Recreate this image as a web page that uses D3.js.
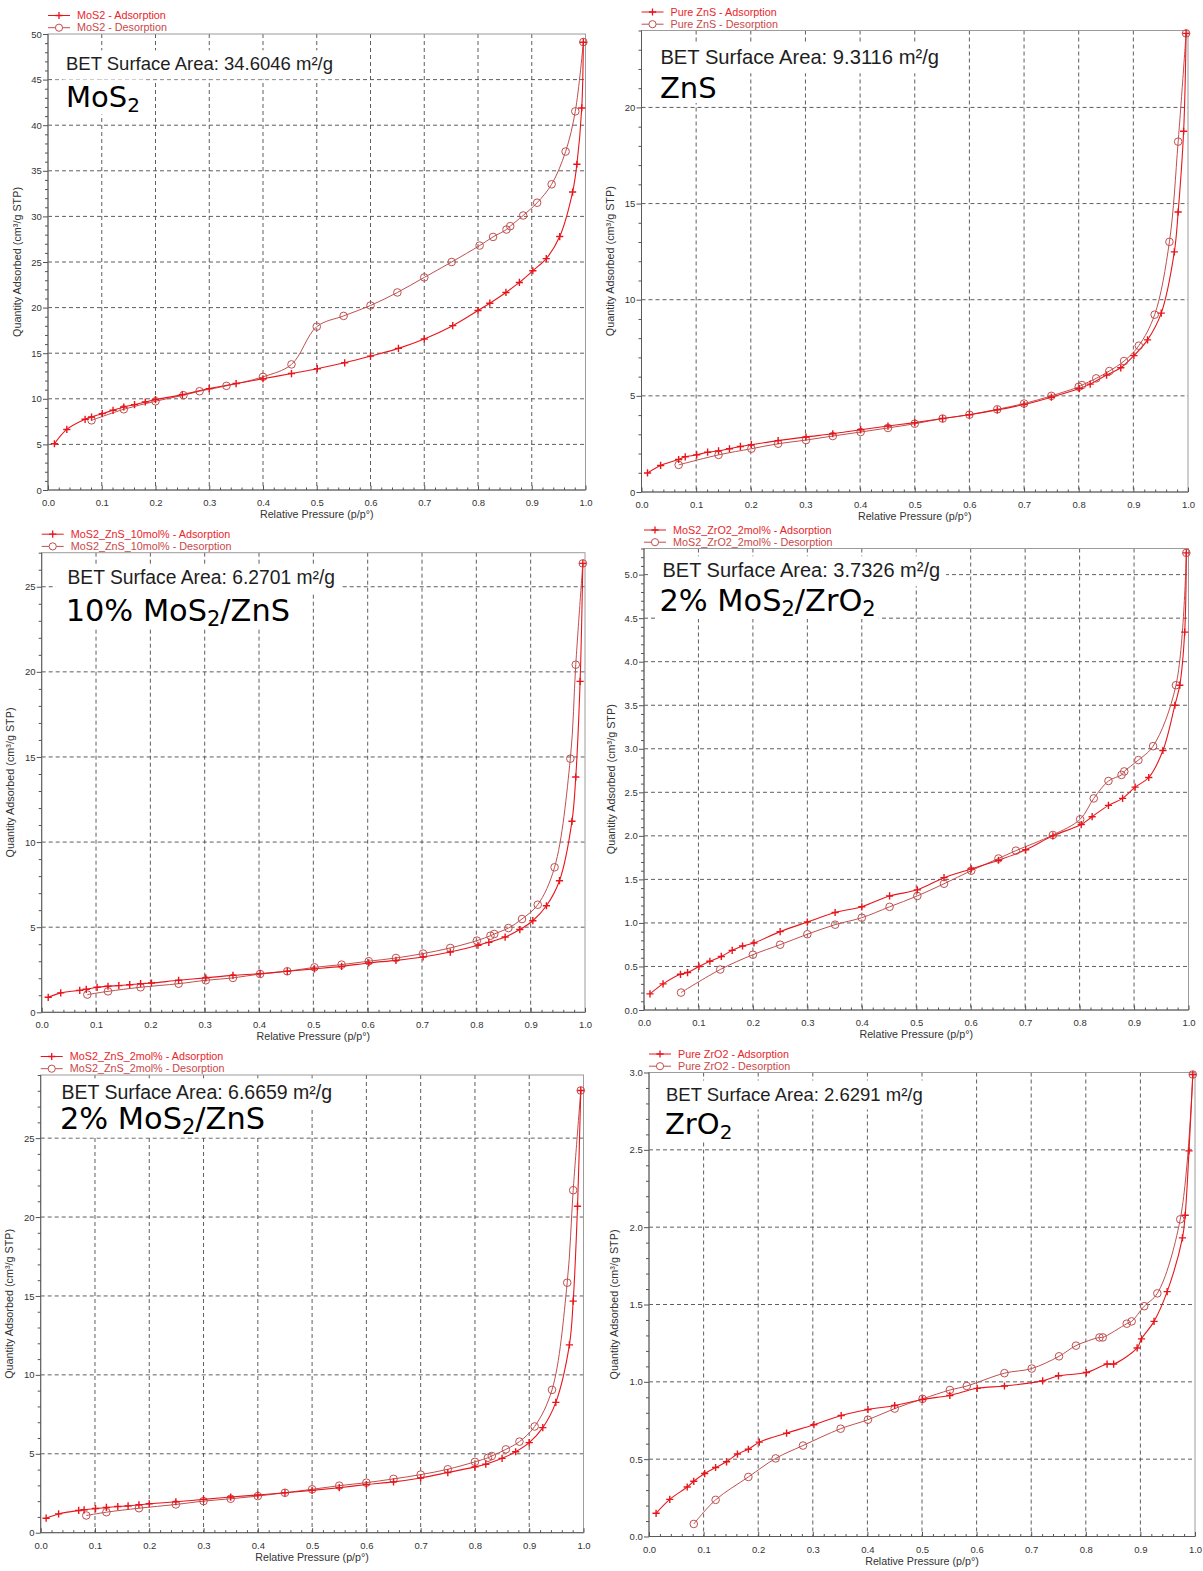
<!DOCTYPE html>
<html>
<head>
<meta charset="utf-8">
<script src="https://cdn.jsdelivr.net/npm/d3@7"></script>
<style>
  html, body { margin: 0; padding: 0; background: #fff; }
  svg { display: block; }
</style>
</head>
<body>
<svg id="fig" width="1203" height="1571"></svg>
<script>
// ---------- isotherm data: [relative pressure p/p°, quantity adsorbed cm³/g STP] ----------
const mos2Ads = [[0.012,5.07],[0.035,6.64],[0.069,7.75],[0.081,8.0],[0.101,8.37],[0.121,8.74],[0.141,9.1],[0.161,9.36],[0.181,9.65],[0.2,9.91],[0.25,10.46],[0.3,11.12],[0.35,11.67],[0.4,12.2],[0.453,12.77],[0.501,13.3],[0.552,13.95],[0.6,14.68],[0.652,15.53],[0.7,16.56],[0.753,18.02],[0.8,19.68],[0.822,20.48],[0.852,21.66],[0.877,22.76],[0.902,24.04],[0.927,25.37],[0.952,27.79],[0.976,32.67],[0.984,35.72],[0.993,41.89],[0.996,49.1]];
const mos2Des = [[0.996,49.12],[0.981,41.52],[0.963,37.11],[0.937,33.52],[0.91,31.5],[0.884,30.1],[0.86,28.93],[0.853,28.56],[0.828,27.75],[0.803,26.8],[0.751,25.0],[0.7,23.31],[0.65,21.66],[0.6,20.23],[0.55,19.09],[0.5,17.91],[0.453,13.77],[0.4,12.41],[0.332,11.42],[0.282,10.83],[0.252,10.39],[0.2,9.73],[0.141,8.85],[0.081,7.64]];

const znsAds = [[0.011,0.99],[0.035,1.38],[0.068,1.69],[0.08,1.83],[0.101,1.93],[0.121,2.07],[0.141,2.14],[0.161,2.25],[0.181,2.37],[0.201,2.46],[0.25,2.67],[0.301,2.86],[0.35,3.03],[0.401,3.24],[0.451,3.43],[0.5,3.61],[0.551,3.82],[0.6,4.02],[0.651,4.27],[0.7,4.55],[0.75,4.93],[0.801,5.38],[0.821,5.61],[0.851,6.08],[0.877,6.46],[0.901,7.09],[0.926,7.91],[0.951,9.3],[0.975,12.49],[0.982,14.56],[0.992,18.76],[0.9965,23.85]];
const znsDes = [[0.9965,23.85],[0.982,18.22],[0.966,13.01],[0.939,9.22],[0.91,7.61],[0.883,6.81],[0.856,6.29],[0.832,5.91],[0.806,5.56],[0.8,5.47],[0.75,5.0],[0.7,4.6],[0.651,4.3],[0.6,4.02],[0.551,3.82],[0.5,3.55],[0.451,3.33],[0.401,3.12],[0.35,2.91],[0.301,2.7],[0.25,2.51],[0.201,2.25],[0.141,1.93],[0.068,1.41]];

const mz10Ads = [[0.012,0.88],[0.035,1.14],[0.07,1.29],[0.082,1.35],[0.102,1.47],[0.122,1.53],[0.142,1.57],[0.162,1.62],[0.182,1.68],[0.202,1.72],[0.252,1.88],[0.302,2.02],[0.352,2.17],[0.402,2.27],[0.452,2.41],[0.502,2.55],[0.552,2.7],[0.602,2.9],[0.652,3.05],[0.702,3.25],[0.752,3.54],[0.803,3.94],[0.823,4.11],[0.853,4.42],[0.88,4.86],[0.904,5.38],[0.929,6.26],[0.953,7.73],[0.976,11.22],[0.983,13.82],[0.991,19.44],[0.996,26.37]];
const mz10Des = [[0.996,26.37],[0.983,20.42],[0.973,14.9],[0.944,8.52],[0.913,6.32],[0.884,5.48],[0.859,4.95],[0.833,4.6],[0.826,4.5],[0.801,4.21],[0.752,3.78],[0.702,3.45],[0.652,3.19],[0.602,3.0],[0.552,2.8],[0.502,2.64],[0.452,2.41],[0.402,2.25],[0.352,2.02],[0.302,1.88],[0.252,1.68],[0.182,1.47],[0.122,1.23],[0.084,1.04]];

const mzr2Ads = [[0.011,0.185],[0.035,0.3],[0.067,0.41],[0.08,0.43],[0.101,0.5],[0.121,0.56],[0.142,0.615],[0.162,0.685],[0.181,0.735],[0.202,0.77],[0.25,0.9],[0.3,1.01],[0.351,1.12],[0.4,1.185],[0.451,1.31],[0.502,1.38],[0.551,1.52],[0.601,1.62],[0.651,1.72],[0.701,1.84],[0.751,2.0],[0.803,2.13],[0.823,2.22],[0.853,2.35],[0.879,2.43],[0.902,2.56],[0.927,2.67],[0.953,2.98],[0.975,3.5],[0.984,3.73],[0.993,4.34],[0.996,5.25]];
const mzr2Des = [[0.996,5.25],[0.977,3.73],[0.935,3.03],[0.908,2.87],[0.882,2.74],[0.877,2.7],[0.853,2.63],[0.826,2.43],[0.801,2.19],[0.751,2.01],[0.683,1.83],[0.651,1.74],[0.601,1.6],[0.551,1.45],[0.502,1.31],[0.451,1.185],[0.4,1.06],[0.351,0.98],[0.3,0.87],[0.25,0.75],[0.2,0.635],[0.14,0.465],[0.068,0.2]];

const mz2Ads = [[0.01,0.92],[0.033,1.19],[0.07,1.41],[0.08,1.45],[0.101,1.53],[0.121,1.6],[0.142,1.66],[0.161,1.7],[0.181,1.77],[0.2,1.83],[0.249,1.96],[0.3,2.11],[0.35,2.26],[0.4,2.39],[0.45,2.53],[0.5,2.68],[0.55,2.85],[0.6,3.05],[0.65,3.22],[0.7,3.47],[0.75,3.81],[0.8,4.17],[0.82,4.34],[0.85,4.71],[0.875,5.13],[0.9,5.71],[0.925,6.66],[0.949,8.26],[0.974,11.9],[0.981,14.67],[0.989,20.68],[0.995,28.02]];
const mz2Des = [[0.995,28.02],[0.981,21.7],[0.97,15.84],[0.942,9.05],[0.91,6.73],[0.882,5.77],[0.857,5.28],[0.831,4.86],[0.824,4.75],[0.8,4.49],[0.75,4.02],[0.7,3.68],[0.65,3.41],[0.6,3.17],[0.55,2.98],[0.5,2.75],[0.45,2.53],[0.4,2.32],[0.35,2.15],[0.3,2.0],[0.249,1.79],[0.181,1.55],[0.121,1.3],[0.084,1.09]];

const zro2Ads = [[0.013,0.15],[0.038,0.24],[0.07,0.32],[0.082,0.357],[0.102,0.407],[0.122,0.446],[0.142,0.483],[0.162,0.533],[0.182,0.564],[0.202,0.61],[0.252,0.668],[0.302,0.723],[0.352,0.782],[0.401,0.821],[0.45,0.847],[0.501,0.886],[0.551,0.912],[0.601,0.958],[0.651,0.973],[0.721,1.006],[0.75,1.039],[0.801,1.06],[0.839,1.115],[0.851,1.115],[0.894,1.219],[0.902,1.278],[0.925,1.391],[0.949,1.583],[0.977,1.931],[0.982,2.077],[0.989,2.493],[0.996,2.987]];
const zro2Des = [[0.996,2.987],[0.973,2.051],[0.931,1.572],[0.907,1.489],[0.884,1.391],[0.875,1.376],[0.831,1.287],[0.825,1.287],[0.782,1.234],[0.751,1.165],[0.701,1.086],[0.651,1.056],[0.582,0.973],[0.551,0.947],[0.501,0.89],[0.45,0.827],[0.401,0.755],[0.351,0.697],[0.282,0.588],[0.232,0.505],[0.182,0.385],[0.122,0.237],[0.082,0.081]];

// ---------- tick values and labels ----------
const xTicks = [0, 0.1, 0.2, 0.3, 0.4, 0.5, 0.6, 0.7, 0.8, 0.9, 1.0];
const yTicksMoS2 = [0, 5, 10, 15, 20, 25, 30, 35, 40, 45, 50];
const yTicksZnS = [0, 5, 10, 15, 20];
const yTicksMZ10 = [0, 5, 10, 15, 20, 25];
const yTicksMZr2 = [0, 0.5, 1.0, 1.5, 2.0, 2.5, 3.0, 3.5, 4.0, 4.5, 5.0];
const yTicksMZ2 = [0, 5, 10, 15, 20, 25];
const yTicksZrO2 = [0, 0.5, 1.0, 1.5, 2.0, 2.5, 3.0];

// ---------- labels ----------
const sampleNames = ["MoS2", "Pure ZnS", "MoS2_ZnS_10mol%", "MoS2_ZrO2_2mol%", "MoS2_ZnS_2mol%", "Pure ZrO2"];
const betAreas = ["34.6046", "9.3116", "6.2701", "3.7326", "6.6659", "2.6291"];
// title pieces: [text, isSubscript]
const titles = [
  [["MoS", false], ["2", true]],
  [["ZnS", false]],
  [["10% MoS", false], ["2", true], ["/ZnS", false]],
  [["2% MoS", false], ["2", true], ["/ZrO", false], ["2", true]],
  [["2% MoS", false], ["2", true], ["/ZnS", false]],
  [["ZrO", false], ["2", true]]
];
const xTitle = "Relative Pressure (p/p°)";
const yTitle = "Quantity Adsorbed (cm³/g STP)";

// ---------- panel layout (pixel boxes) ----------
const boxes = [
  {x0: 48,    x1: 585.5, y0: 34,    y1: 490,    betX: 66,    betY: 70.3,   betSize: 18.5, titleX: 66,    titleY: 106.5, titleSize: 29,   yTitleOff: 31},
  {x0: 641.5, x1: 1188,  y0: 30.5,  y1: 492,    betX: 660.4, betY: 64.3,   betSize: 20.2, titleX: 660,   titleY: 98,    titleSize: 29,   yTitleOff: 31},
  {x0: 41.7,  x1: 585,   y0: 552.7, y1: 1012.3, betX: 67.5,  betY: 584,    betSize: 19.3, titleX: 65.7,  titleY: 620.5, titleSize: 30.4, yTitleOff: 31},
  {x0: 644,   x1: 1188.5,y0: 548.5, y1: 1010,   betX: 662.5, betY: 577.3,  betSize: 20,   titleX: 659.5, titleY: 611,   titleSize: 30.4, yTitleOff: 33},
  {x0: 40.7,  x1: 583.5, y0: 1075,  y1: 1532.7, betX: 61.5,  betY: 1099.3, betSize: 19.5, titleX: 60,    titleY: 1129.3,titleSize: 30.4, yTitleOff: 31},
  {x0: 649,   x1: 1195,  y0: 1072.5,y1: 1536.5, betX: 666,   betY: 1100.5, betSize: 18.5, titleX: 665,   titleY: 1134,  titleSize: 29,   yTitleOff: 35}
];

const panels = [
  {ads: mos2Ads, des: mos2Des, yMax: 50,  yTicks: yTicksMoS2, yMinor: 1,   yFmt: d3.format("d")},
  {ads: znsAds,  des: znsDes,  yMax: 24,  yTicks: yTicksZnS,  yMinor: 1,   yFmt: d3.format("d")},
  {ads: mz10Ads, des: mz10Des, yMax: 27,  yTicks: yTicksMZ10, yMinor: 1,   yFmt: d3.format("d")},
  {ads: mzr2Ads, des: mzr2Des, yMax: 5.3, yTicks: yTicksMZr2, yMinor: 0.1, yFmt: d3.format(".1f")},
  {ads: mz2Ads,  des: mz2Des,  yMax: 29,  yTicks: yTicksMZ2,  yMinor: 1,   yFmt: d3.format("d")},
  {ads: zro2Ads, des: zro2Des, yMax: 3.0, yTicks: yTicksZrO2, yMinor: 0.1, yFmt: d3.format(".1f")}
];

const ADS_COLOR = "#e8161c";
const DES_COLOR = "#c04f4f";
const ADS_TEXT = "#e8262b";
const DES_TEXT = "#c94848";
const SANS = "'Liberation Sans', Arial, Helvetica, sans-serif";
const plusPath = "M-3.6,0H3.6M0,-3.6V3.6";

const svg = d3.select("#fig");

panels.forEach((p, i) => drawPanel(p, boxes[i], sampleNames[i], betAreas[i], titles[i]));

function drawPanel(p, L, name, bet, title) {
  const x = d3.scaleLinear().domain([0, 1]).range([L.x0, L.x1]);
  const y = d3.scaleLinear().domain([0, p.yMax]).range([L.y1, L.y0]);
  const g = svg.append("g");

  // dashed grid at the major ticks
  const grid = g.append("g")
    .attr("stroke", "#4d4d4d").attr("stroke-width", 0.9).attr("stroke-dasharray", "4,3");
  grid.selectAll("line.gx").data(xTicks.filter(v => v > 0 && v < 1)).join("line")
    .attr("class", "gx")
    .attr("x1", d => x(d)).attr("x2", d => x(d)).attr("y1", L.y0).attr("y2", L.y1);
  grid.selectAll("line.gy").data(p.yTicks.filter(v => v > 0 && v < p.yMax - 1e-9)).join("line")
    .attr("class", "gy")
    .attr("x1", L.x0).attr("x2", L.x1).attr("y1", d => y(d)).attr("y2", d => y(d));

  // annotation block: surface area and sample name on white backing
  const ann = g.append("g");
  const betText = ann.append("text")
    .attr("x", L.betX).attr("y", L.betY)
    .attr("font-family", SANS).attr("font-size", L.betSize).attr("fill", "#1e1e1e")
    .text(`BET Surface Area: ${bet} m²/g`);
  const subSize = L.titleSize * 0.69;
  const titleText = ann.append("text")
    .attr("x", L.titleX).attr("y", L.titleY)
    .attr("font-family", "'DejaVu Sans', Verdana, sans-serif").attr("font-size", L.titleSize).attr("fill", "#000");
  let lowered = false;
  title.forEach(([s, sub]) => {
    const ts = titleText.append("tspan").text(s);
    if (sub && !lowered) { ts.attr("font-size", subSize).attr("dy", 5); lowered = true; }
    else if (sub) { ts.attr("font-size", subSize); }
    else if (lowered) { ts.attr("dy", -5); lowered = false; }
  });
  const bb1 = betText.node().getBBox();
  const bb2 = titleText.node().getBBox();
  ann.insert("rect", ":first-child")
    .attr("x", bb2.x - 3).attr("y", bb2.y).attr("width", bb2.width + 6).attr("height", bb2.height - 2)
    .attr("fill", "#fff");
  ann.insert("rect", ":first-child")
    .attr("x", bb1.x - 12).attr("y", bb1.y - 3).attr("width", bb1.width + 18).attr("height", bb1.height + 8)
    .attr("fill", "#fff");

  // plot frame
  g.append("rect")
    .attr("x", L.x0).attr("y", L.y0).attr("width", L.x1 - L.x0).attr("height", L.y1 - L.y0)
    .attr("fill", "none").attr("stroke", "#9c9c9c").attr("stroke-width", 1);
  g.append("path")
    .attr("d", `M${L.x0},${L.y0}V${L.y1}H${L.x1}`)
    .attr("fill", "none").attr("stroke", "#5a5a5a").attr("stroke-width", 1);

  // x axis: major ticks with labels, minor ticks every 0.02
  const xMinor = d3.range(0, 1.0001, 0.02).filter(v => Math.abs(v * 10 - Math.round(v * 10)) > 1e-6);
  const styleAxis = a => {
    a.select(".domain").remove();
    a.attr("font-family", SANS).attr("font-size", 9.5);
    a.selectAll("line").attr("stroke", "#555");
    a.selectAll("text").attr("fill", "#333");
  };
  g.append("g").attr("transform", `translate(0,${L.y1})`)
    .call(d3.axisBottom(x).tickValues(xTicks).tickSize(-4.5).tickSizeOuter(0).tickPadding(9.3).tickFormat(d3.format(".1f")))
    .call(styleAxis);
  g.append("g").attr("transform", `translate(0,${L.y1})`)
    .call(d3.axisBottom(x).tickValues(xMinor).tickSize(-2.5).tickSizeOuter(0).tickFormat(""))
    .call(styleAxis);

  // y axis: major ticks with labels, minor ticks
  const step = p.yTicks[1] - p.yTicks[0];
  const yMinor = d3.range(0, p.yMax + 1e-9, p.yMinor)
    .filter(v => Math.abs(v / step - Math.round(v / step)) > 1e-6);
  g.append("g").attr("transform", `translate(${L.x0},0)`)
    .call(d3.axisLeft(y).tickValues(p.yTicks).tickSize(5).tickSizeOuter(0).tickPadding(1.2).tickFormat(p.yFmt))
    .call(styleAxis);
  g.append("g").attr("transform", `translate(${L.x0},0)`)
    .call(d3.axisLeft(y).tickValues(yMinor).tickSize(3).tickSizeOuter(0).tickFormat(""))
    .call(styleAxis);

  // axis titles
  g.append("text")
    .attr("x", (L.x0 + L.x1) / 2).attr("y", L.y1 + 28)
    .attr("text-anchor", "middle").attr("font-family", SANS).attr("font-size", 10.7).attr("fill", "#333")
    .text(xTitle);
  g.append("text")
    .attr("transform", `translate(${L.x0 - L.yTitleOff},${(L.y0 + L.y1) / 2}) rotate(-90)`)
    .attr("text-anchor", "middle").attr("dy", "0.35em")
    .attr("font-family", SANS).attr("font-size", 10.8).attr("fill", "#333")
    .text(yTitle);

  // isotherm curves
  const line = d3.line()
    .x(d => x(d[0])).y(d => y(d[1]))
    .curve(d3.curveCatmullRom.alpha(0.5));
  g.append("path").datum(p.des).attr("d", line)
    .attr("fill", "none").attr("stroke", DES_COLOR).attr("stroke-width", 1);
  g.append("path").datum(p.ads).attr("d", line)
    .attr("fill", "none").attr("stroke", ADS_COLOR).attr("stroke-width", 1.1);

  g.append("g").selectAll("circle").data(p.des).join("circle")
    .attr("cx", d => x(d[0])).attr("cy", d => y(d[1])).attr("r", 3.8)
    .attr("fill", "none").attr("stroke", DES_COLOR).attr("stroke-width", 1);
  g.append("g").selectAll("path").data(p.ads).join("path")
    .attr("transform", d => `translate(${x(d[0])},${y(d[1])})`)
    .attr("d", plusPath).attr("fill", "none").attr("stroke", ADS_COLOR).attr("stroke-width", 1.4);

  // legend above the frame
  const lg = g.append("g").attr("font-family", SANS).attr("font-size", 10.8);
  const rows = [
    {label: `${name} - Adsorption`, color: ADS_COLOR, text: ADS_TEXT, kind: "plus", yy: L.y0 - 18.5},
    {label: `${name} - Desorption`, color: DES_COLOR, text: DES_TEXT, kind: "circle", yy: L.y0 - 6.3}
  ];
  rows.forEach(r => {
    lg.append("line").attr("x1", L.x0).attr("x2", L.x0 + 22).attr("y1", r.yy).attr("y2", r.yy)
      .attr("stroke", r.color).attr("stroke-width", 1);
    if (r.kind === "plus") {
      lg.append("path").attr("transform", `translate(${L.x0 + 11},${r.yy})`).attr("d", plusPath)
        .attr("stroke", r.color).attr("stroke-width", 1.3);
    } else {
      lg.append("circle").attr("cx", L.x0 + 11).attr("cy", r.yy).attr("r", 3.6)
        .attr("fill", "#fff").attr("stroke", r.color).attr("stroke-width", 1);
    }
    lg.append("text").attr("x", L.x0 + 29).attr("y", r.yy).attr("dy", "0.35em")
      .attr("fill", r.text).text(r.label);
  });
}
</script>
</body>
</html>
